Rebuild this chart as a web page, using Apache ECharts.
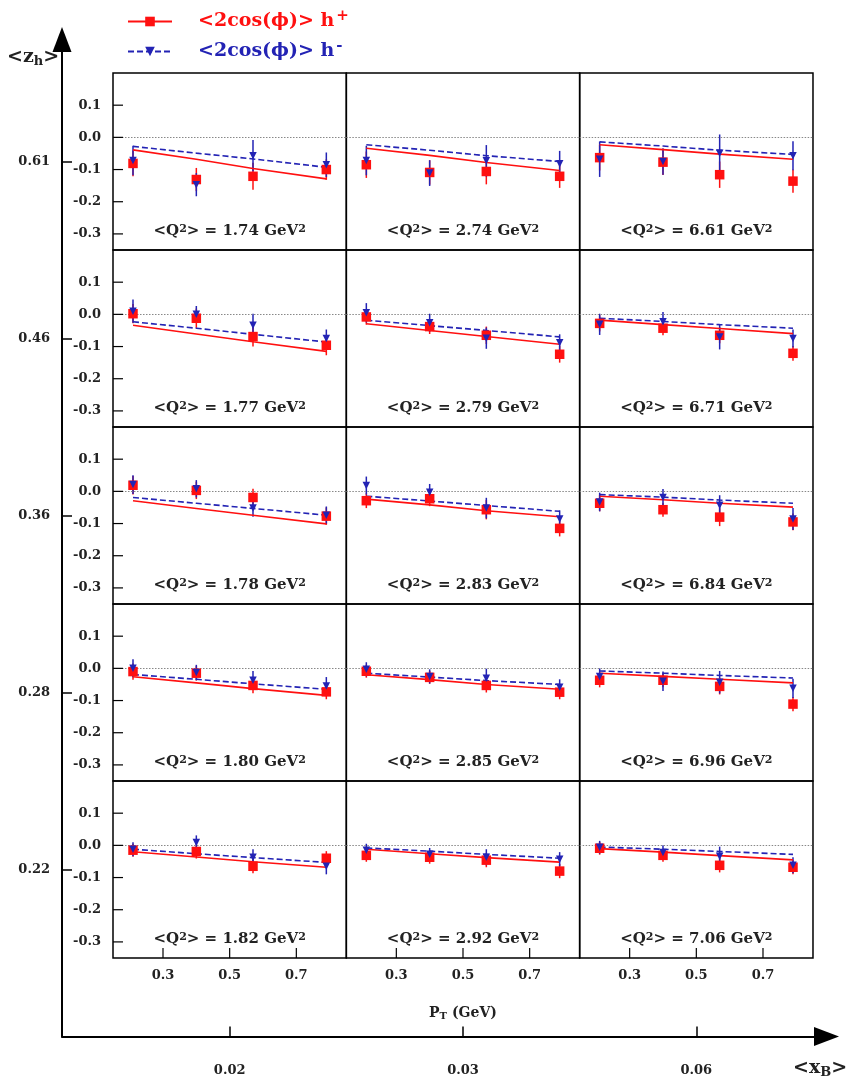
<!DOCTYPE html>
<html><head><meta charset="utf-8">
<script src="https://cdn.jsdelivr.net/npm/echarts@6/dist/echarts.min.js"></script>
<style>html,body{margin:0;padding:0;background:#fff}#c{width:853px;height:1080px}</style>
</head><body><div id="c"></div>
<script>
// ---------------- data ----------------
const ptX = [0.21, 0.40, 0.57, 0.79];
const xBLabels = ['0.02', '0.03', '0.06'];
const zhLabels = ['0.61', '0.46', '0.36', '0.28', '0.22'];
const q2Labels = [
  ['1.74', '2.74', '6.61'],
  ['1.77', '2.79', '6.71'],
  ['1.78', '2.83', '6.84'],
  ['1.80', '2.85', '6.96'],
  ['1.82', '2.92', '7.06']
];
const yTickValues = [0.1, 0.0, -0.1, -0.2, -0.3];
const xTickValues = [0.3, 0.5, 0.7];

// panels in row-major order (row 0 = top, <z_h>=0.61)
const hPlus = [
  [-0.081, -0.131, -0.121, -0.100], [-0.085, -0.109, -0.106, -0.121], [-0.063, -0.077, -0.116, -0.136],
  [0.002, -0.012, -0.069, -0.096], [-0.008, -0.038, -0.065, -0.124], [-0.028, -0.043, -0.065, -0.121],
  [0.019, 0.003, -0.019, -0.077], [-0.029, -0.023, -0.057, -0.115], [-0.037, -0.057, -0.080, -0.095],
  [-0.010, -0.015, -0.053, -0.073], [-0.009, -0.028, -0.053, -0.074], [-0.037, -0.037, -0.056, -0.111],
  [-0.015, -0.019, -0.065, -0.040], [-0.031, -0.037, -0.046, -0.080], [-0.009, -0.031, -0.062, -0.068]
];
const hPlusErr = [
  [0.040, 0.036, 0.042, 0.032], [0.041, 0.038, 0.040, 0.036], [0.040, 0.040, 0.041, 0.036],
  [0.030, 0.030, 0.031, 0.031], [0.024, 0.023, 0.027, 0.026], [0.025, 0.022, 0.025, 0.023],
  [0.029, 0.027, 0.027, 0.027], [0.023, 0.023, 0.030, 0.025], [0.025, 0.022, 0.028, 0.026],
  [0.025, 0.023, 0.024, 0.023], [0.020, 0.020, 0.022, 0.022], [0.022, 0.022, 0.025, 0.022],
  [0.020, 0.022, 0.022, 0.022], [0.020, 0.020, 0.022, 0.022], [0.020, 0.020, 0.022, 0.022]
];
const hMinus = [
  [-0.072, -0.147, -0.057, -0.085], [-0.072, -0.111, -0.073, -0.082], [-0.068, -0.075, -0.049, -0.057],
  [0.010, 0.000, -0.034, -0.075], [0.005, -0.026, -0.074, -0.088], [-0.031, -0.023, -0.070, -0.075],
  [0.021, 0.008, -0.052, -0.074], [0.018, -0.003, -0.052, -0.086], [-0.033, -0.019, -0.043, -0.086],
  [0.000, -0.013, -0.037, -0.055], [-0.003, -0.025, -0.031, -0.059], [-0.025, -0.040, -0.043, -0.062],
  [-0.012, 0.009, -0.037, -0.065], [-0.015, -0.028, -0.037, -0.043], [-0.006, -0.022, -0.034, -0.062]
];
const hMinusErr = [
  [0.046, 0.036, 0.049, 0.038], [0.046, 0.040, 0.049, 0.040], [0.055, 0.041, 0.058, 0.045],
  [0.036, 0.026, 0.036, 0.028], [0.030, 0.028, 0.033, 0.026], [0.033, 0.030, 0.039, 0.028],
  [0.029, 0.027, 0.027, 0.027], [0.028, 0.026, 0.032, 0.027], [0.029, 0.026, 0.031, 0.034],
  [0.028, 0.024, 0.029, 0.028], [0.022, 0.022, 0.030, 0.025], [0.025, 0.030, 0.035, 0.030],
  [0.022, 0.022, 0.025, 0.025], [0.020, 0.020, 0.025, 0.022], [0.020, 0.022, 0.030, 0.025]
];
const modelPlus = [
  [-0.039, -0.068, -0.097, -0.129], [-0.034, -0.056, -0.078, -0.103], [-0.023, -0.038, -0.052, -0.068],
  [-0.034, -0.061, -0.085, -0.115], [-0.029, -0.050, -0.069, -0.093], [-0.018, -0.032, -0.044, -0.060],
  [-0.029, -0.053, -0.074, -0.101], [-0.024, -0.042, -0.060, -0.079], [-0.015, -0.026, -0.037, -0.049],
  [-0.026, -0.045, -0.063, -0.084], [-0.020, -0.035, -0.050, -0.065], [-0.015, -0.025, -0.034, -0.045],
  [-0.020, -0.036, -0.051, -0.068], [-0.012, -0.026, -0.038, -0.052], [-0.010, -0.021, -0.032, -0.045]
];
const modelMinus = [
  [-0.028, -0.049, -0.067, -0.093], [-0.023, -0.040, -0.057, -0.075], [-0.014, -0.027, -0.040, -0.053],
  [-0.023, -0.043, -0.062, -0.086], [-0.018, -0.035, -0.050, -0.070], [-0.012, -0.022, -0.032, -0.043],
  [-0.019, -0.037, -0.053, -0.074], [-0.015, -0.030, -0.044, -0.062], [-0.010, -0.018, -0.027, -0.037],
  [-0.019, -0.034, -0.048, -0.065], [-0.015, -0.027, -0.038, -0.050], [-0.008, -0.015, -0.022, -0.030],
  [-0.012, -0.026, -0.038, -0.053], [-0.008, -0.018, -0.028, -0.040], [-0.005, -0.012, -0.019, -0.028]
];

// ---------------- layout / style ----------------
const RED = '#ff1010', BLUE = '#2323b4';
const FONT = 'DejaVu Serif';
const PL = 113, PW = 233.33, PT = 73, PH = 177;
const NR = 5, NC = 3;
const X_MIN = 0.15, X_MAX = 0.85, Y_MIN = -0.35, Y_MAX = 0.2;
const TICK_LEN = 10;

const grids = [], xAxes = [], yAxes = [], series = [], graphics = [];

function errRender(color) {
  return function (params, api) {
    const x = api.value(0), y = api.value(1), e = api.value(2);
    const a = api.coord([x, y + e]), b = api.coord([x, y - e]);
    return { type: 'line', shape: { x1: a[0], y1: a[1], x2: b[0], y2: b[1] },
      style: { stroke: color, lineWidth: 1.5 } };
  };
}
// inward tick marks on the panel frame, positioned through the panel's own scales
function xTickRender(params, api) {
  const p = api.coord([api.value(0), Y_MIN]);
  return { type: 'line', shape: { x1: p[0], y1: p[1], x2: p[0], y2: p[1] - TICK_LEN },
    style: { stroke: '#000', lineWidth: 1.2 } };
}
function yTickRender(params, api) {
  const p = api.coord([X_MIN, api.value(0)]);
  return { type: 'line', shape: { x1: p[0], y1: p[1], x2: p[0] + TICK_LEN, y2: p[1] },
    style: { stroke: '#000', lineWidth: 1.2 } };
}

for (let r = 0; r < NR; r++) {
  for (let c = 0; c < NC; c++) {
    const i = r * NC + c;
    grids.push({ left: PL + c * PW, top: PT + r * PH, width: PW, height: PH,
      show: true, borderColor: '#000', borderWidth: 1.5, containLabel: false });
    xAxes.push({ gridIndex: i, type: 'value', min: X_MIN, max: X_MAX, position: 'bottom',
      axisLine: { show: false, onZero: false }, splitLine: { show: false }, axisTick: { show: false },
      axisLabel: { show: r === NR - 1, customValues: xTickValues, margin: 11, color: '#222',
        fontFamily: FONT, fontWeight: 'bold', fontSize: 13, formatter: v => v.toFixed(1) } });
    yAxes.push({ gridIndex: i, type: 'value', min: Y_MIN, max: Y_MAX, position: 'left',
      axisLine: { show: false, onZero: false }, splitLine: { show: false }, axisTick: { show: false },
      axisLabel: { show: c === 0, customValues: yTickValues, margin: 12, color: '#222',
        fontFamily: FONT, fontWeight: 'bold', fontSize: 13,
        formatter: v => (Math.abs(v) < 1e-9 ? '0.0' : v.toFixed(1)) } });

    if (r === NR - 1) {
      series.push({ type: 'custom', xAxisIndex: i, yAxisIndex: i, renderItem: xTickRender,
        data: xTickValues.map(v => [v, Y_MIN]), encode: { x: 0, y: 1 }, silent: true, clip: false, z: 8 });
    }
    if (c === 0) {
      series.push({ type: 'custom', xAxisIndex: i, yAxisIndex: i, renderItem: yTickRender,
        data: yTickValues.map(v => [v]), encode: { y: 0 }, silent: true, clip: false, z: 8 });
    }

    const redErr = ptX.map((x, k) => [x, hPlus[i][k], hPlusErr[i][k]]);
    const blueErr = ptX.map((x, k) => [x, hMinus[i][k], hMinusErr[i][k]]);
    series.push({ type: 'custom', xAxisIndex: i, yAxisIndex: i, renderItem: errRender(RED),
      data: redErr, encode: { x: 0, y: 1 }, silent: true, z: 3 });
    series.push({ type: 'custom', xAxisIndex: i, yAxisIndex: i, renderItem: errRender(BLUE),
      data: blueErr, encode: { x: 0, y: 1 }, silent: true, z: 3 });
    series.push({ name: 'hp', type: 'line', xAxisIndex: i, yAxisIndex: i,
      data: ptX.map((x, k) => [x, modelPlus[i][k]]), showSymbol: false, symbol: 'rect',
      lineStyle: { color: RED, width: 1.6 }, itemStyle: { color: RED }, z: 4, silent: true,
      markLine: { silent: true, symbol: ['none', 'none'], label: { show: false },
        lineStyle: { color: '#888', type: [1.5, 1.5], width: 1 }, data: [{ yAxis: 0 }] } });
    series.push({ name: 'hm', type: 'line', xAxisIndex: i, yAxisIndex: i,
      data: ptX.map((x, k) => [x, modelMinus[i][k]]), showSymbol: false, symbol: 'triangle', symbolRotate: 180,
      lineStyle: { color: BLUE, width: 1.6, type: [6, 3] }, itemStyle: { color: BLUE }, z: 4, silent: true });
    series.push({ type: 'scatter', xAxisIndex: i, yAxisIndex: i, symbol: 'rect', symbolSize: 9.5,
      data: ptX.map((x, k) => [x, hPlus[i][k]]), itemStyle: { color: RED, opacity: 1 }, z: 5, silent: true });
    series.push({ type: 'scatter', xAxisIndex: i, yAxisIndex: i, symbol: 'triangle', symbolRotate: 180, symbolSize: [7.5, 7.5],
      data: ptX.map((x, k) => [x, hMinus[i][k]]), itemStyle: { color: BLUE, opacity: 1 }, z: 6, silent: true });

    graphics.push({ type: 'text', x: PL + (c + 0.5) * PW, y: PT + r * PH + 158,
      style: { text: '<Q{sup|2}> = ' + q2Labels[r][c] + ' GeV{sup|2}', align: 'center', verticalAlign: 'middle',
        fill: '#222', fontFamily: FONT, fontWeight: 'bold', fontSize: 15,
        rich: { sup: { fontSize: 11, fontFamily: FONT, fontWeight: 'bold', fill: '#222', verticalAlign: 'top', lineHeight: 11, padding: [0, 0, 9, 0] } } } });
  }
}

// outer axes (<x_B> horizontally, <z_h> vertically)
const OG = NR * NC;
const colC0 = PL + 0.5 * PW;
const rowC0 = PT + (NR - 0.5) * PH;
const oLeft = 62, oRight = 826.5, oTop = 39.5, oBottom = 1036.5;
grids.push({ left: oLeft, top: oTop, width: oRight - oLeft, height: oBottom - oTop, show: false });
xAxes.push({ gridIndex: OG, type: 'value', min: (oLeft - colC0) / PW, max: (oRight - colC0) / PW, position: 'bottom',
  axisLine: { show: true, onZero: false, symbol: ['none', 'triangle'], symbolSize: [19, 25], lineStyle: { color: '#000', width: 2 } },
  axisTick: { show: true, inside: true, length: 10, customValues: [0, 1, 2], lineStyle: { color: '#000', width: 1.5 } },
  axisLabel: { customValues: [0, 1, 2], margin: 28, color: '#222', fontFamily: FONT, fontWeight: 'bold', fontSize: 13,
    formatter: v => xBLabels[Math.round(v)] },
  splitLine: { show: false } });
yAxes.push({ gridIndex: OG, type: 'value', min: -(oBottom - rowC0) / PH, max: (rowC0 - oTop) / PH, position: 'left',
  axisLine: { show: true, onZero: false, symbol: ['none', 'triangle'], symbolSize: [19, 25], lineStyle: { color: '#000', width: 2 } },
  axisTick: { show: true, inside: true, length: 10, customValues: [0, 1, 2, 3, 4], lineStyle: { color: '#000', width: 1.5 } },
  axisLabel: { customValues: [0, 1, 2, 3, 4], margin: 12, color: '#222', fontFamily: FONT, fontWeight: 'bold', fontSize: 13,
    formatter: v => zhLabels[NR - 1 - Math.round(v)] },
  splitLine: { show: false } });

graphics.push({ type: 'text', x: 7, y: 57, style: { text: '<z{sub|h}>', verticalAlign: 'middle',
  fill: '#222', fontFamily: FONT, fontWeight: 'bold', fontSize: 19,
  rich: { sub: { fontSize: 13, fontFamily: FONT, fontWeight: 'bold', fill: '#222', verticalAlign: 'bottom', padding: [9, 0, 0, 0] } } } });
graphics.push({ type: 'text', x: 793, y: 1068, style: { text: '<x{sub|B}>', verticalAlign: 'middle',
  fill: '#222', fontFamily: FONT, fontWeight: 'bold', fontSize: 19,
  rich: { sub: { fontSize: 13, fontFamily: FONT, fontWeight: 'bold', fill: '#222', verticalAlign: 'bottom', padding: [9, 0, 0, 0] } } } });
graphics.push({ type: 'text', x: PL + 1.5 * PW, y: 1013, style: { text: 'P{sub|T} (GeV)', align: 'center', verticalAlign: 'middle',
  fill: '#222', fontFamily: FONT, fontWeight: 'bold', fontSize: 14,
  rich: { sub: { fontSize: 10, fontFamily: FONT, fontWeight: 'bold', fill: '#222', verticalAlign: 'bottom', padding: [7, 0, 0, 0] } } } });

const legendRich = {
  pad: { width: 21 },
  sup: { fontSize: 15, fontFamily: FONT, fontWeight: 'bold', verticalAlign: 'top', padding: [0, 0, 10, 2] }
};

const option = {
  animation: false,
  backgroundColor: '#fff',
  legend: {
    data: [
      { name: 'hp', textStyle: { color: RED } },
      { name: 'hm', textStyle: { color: BLUE } }
    ],
    orient: 'vertical', left: 122, top: 4, itemWidth: 44, itemHeight: 12, itemGap: 8,
    selectedMode: false,
    textStyle: { fontFamily: FONT, fontWeight: 'bold', fontSize: 19, rich: legendRich },
    formatter: n => '{pad|}<2cos(ϕ)> h{sup|' + (n === 'hp' ? '+' : '-') + '}'
  },
  grid: grids, xAxis: xAxes, yAxis: yAxes, series: series,
  graphic: graphics
};

const chart = echarts.init(document.getElementById('c'), null, { renderer: 'canvas' });
chart.setOption(option);
</script>
</body></html>
